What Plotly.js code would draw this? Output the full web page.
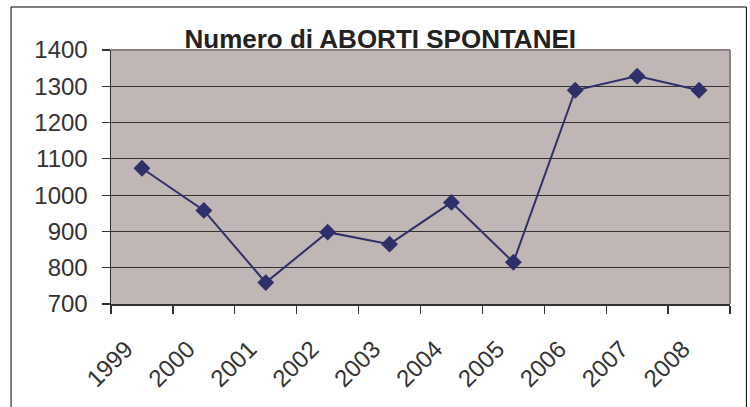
<!DOCTYPE html>
<html>
<head>
<meta charset="utf-8">
<script src="https://cdn.plot.ly/plotly-3.0.1.min.js"></script>
<style>html,body{margin:0;padding:0;background:#fff;}#chart{width:750px;height:407px;}</style>
</head>
<body>
<div id="chart"></div>
<script>
const years = ["1999","2000","2001","2002","2003","2004","2005","2006","2007","2008"];
const aborti = [1074, 958, 759, 898, 865, 980, 815, 1289, 1328, 1289];
const yTicks = [700, 800, 900, 1000, 1100, 1200, 1300, 1400];
const titleText = "Numero di ABORTI SPONTANEI";

const trace = {
  x: years,
  y: aborti,
  type: "scatter",
  mode: "lines+markers",
  line: {color: "#2f2f6a", width: 2},
  marker: {symbol: "diamond", size: 13, color: "#2f2f6a"},
  hoverinfo: "x+y"
};

const layout = {
  width: 750,
  height: 407,
  margin: {l: 110.5, r: 19.5, t: 50, b: 103, pad: 0},
  paper_bgcolor: "#ffffff",
  plot_bgcolor: "#c0b6b4",
  showlegend: false,
  font: {family: "Liberation Sans, Arial, sans-serif", color: "#333333"},
  title: {
    text: "<b>" + titleText + "</b>",
    font: {size: 26, color: "#222222", family: "Liberation Sans, Arial, sans-serif"},
    x: 0.507, xanchor: "center", xref: "container",
    y: 0.905, yanchor: "middle", yref: "container"
  },
  xaxis: {
    type: "category",
    categoryorder: "array",
    categoryarray: years,
    range: [-0.5, years.length - 0.5],
    tickson: "boundaries",
    ticks: "outside",
    ticklen: 8,
    tickwidth: 1.2,
    tickcolor: "#333333",
    showline: true,
    linecolor: "#333333",
    linewidth: 1.5,
    showgrid: false,
    tickangle: -45,
    ticklabelstandoff: 20,
    ticklabelshift: -16,
    tickfont: {size: 24, color: "#333333"},
    fixedrange: true
  },
  yaxis: {
    range: [700, 1400],
    tickvals: yTicks,
    ticktext: yTicks.map(String),
    ticks: "outside",
    ticklen: 8,
    tickwidth: 1.2,
    tickcolor: "#333333",
    showline: true,
    linecolor: "#333333",
    linewidth: 1.5,
    showgrid: true,
    gridcolor: "#333333",
    gridwidth: 1,
    zeroline: false,
    ticklabelstandoff: 9,
    tickfont: {size: 24, color: "#333333"},
    fixedrange: true
  },
  shapes: [
    {type: "line", xref: "paper", yref: "paper", x0: 0, x1: 1, y0: 1, y1: 1,
     line: {color: "#8c8282", width: 2}, layer: "above"},
    {type: "line", xref: "paper", yref: "paper", x0: 1, x1: 1, y0: 0, y1: 1,
     line: {color: "#8c8282", width: 2}, layer: "above"},
    {type: "rect", xref: "paper", yref: "paper",
     x0: -0.1615, x1: 1.0265, y0: -0.6, y1: 1.1693,
     line: {color: "#000000", width: 1}, fillcolor: "rgba(0,0,0,0)", layer: "above"}
  ]
};

Plotly.newPlot("chart", [trace], layout, {displayModeBar: false, staticPlot: true});
</script>
</body>
</html>
